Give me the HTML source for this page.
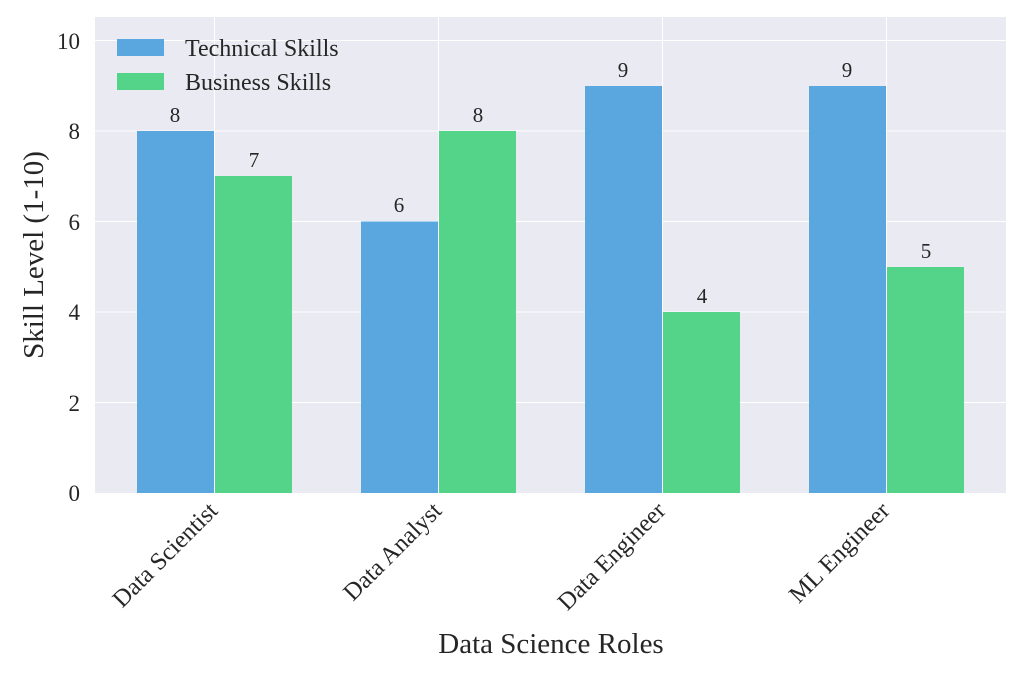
<!DOCTYPE html>
<html><head><meta charset="utf-8"><style>body{margin:0;background:#fff}svg{display:block}</style></head><body>
<svg width="1024" height="677" xmlns="http://www.w3.org/2000/svg" font-family="Liberation Serif, serif" fill="#262626">
<rect x="95" y="17" width="911" height="476" fill="#eaeaf2"/>
<g stroke="#fff" stroke-width="1">
<line x1="95" x2="1006" y1="40.5" y2="40.5"/><line x1="95" x2="1006" y1="131" y2="131"/><line x1="95" x2="1006" y1="221.5" y2="221.5"/><line x1="95" x2="1006" y1="312" y2="312"/><line x1="95" x2="1006" y1="402.5" y2="402.5"/>
<line x1="214.5" x2="214.5" y1="17" y2="493"/><line x1="438.5" x2="438.5" y1="17" y2="493"/><line x1="662.5" x2="662.5" y1="17" y2="493"/><line x1="886.5" x2="886.5" y1="17" y2="493"/>
</g>
<g fill="#5aa7df">
<rect x="137" y="131" width="77" height="362"/><rect x="361" y="221.5" width="77" height="271.5"/><rect x="585" y="86" width="77" height="407"/><rect x="809" y="86" width="77" height="407"/>
</g>
<g fill="#54d488">
<rect x="215" y="176" width="77" height="317"/><rect x="439" y="131" width="77" height="362"/><rect x="663" y="312" width="77" height="181"/><rect x="887" y="267" width="77" height="226"/>
</g>
<g font-size="21" text-anchor="middle">
<text x="175" y="122">8</text><text x="254" y="167">7</text><text x="399" y="212">6</text><text x="478" y="122">8</text>
<text x="623" y="77">9</text><text x="702" y="303">4</text><text x="847" y="77">9</text><text x="926" y="258">5</text>
</g>
<g font-size="23" text-anchor="end">
<text x="80" y="501">0</text><text x="80" y="411">2</text><text x="80" y="320">4</text><text x="80" y="230">6</text><text x="80" y="139">8</text><text x="80" y="49">10</text>
</g>
<g font-size="24.5" text-anchor="end">
<text transform="translate(219,512) rotate(-45)">Data Scientist</text>
<text transform="translate(443,512) rotate(-45)">Data Analyst</text>
<text transform="translate(667,512) rotate(-45)">Data Engineer</text>
<text transform="translate(891,512) rotate(-45)">ML Engineer</text>
</g>
<text x="551" y="653" font-size="29" text-anchor="middle">Data Science Roles</text>
<text transform="translate(43,255) rotate(-90)" font-size="29" text-anchor="middle">Skill Level (1-10)</text>
<rect x="117" y="39" width="47" height="17" fill="#5aa7df"/>
<rect x="117" y="73" width="47" height="17" fill="#54d488"/>
<text x="185" y="56" font-size="24">Technical Skills</text>
<text x="185" y="90" font-size="24">Business Skills</text>
</svg>
</body></html>
